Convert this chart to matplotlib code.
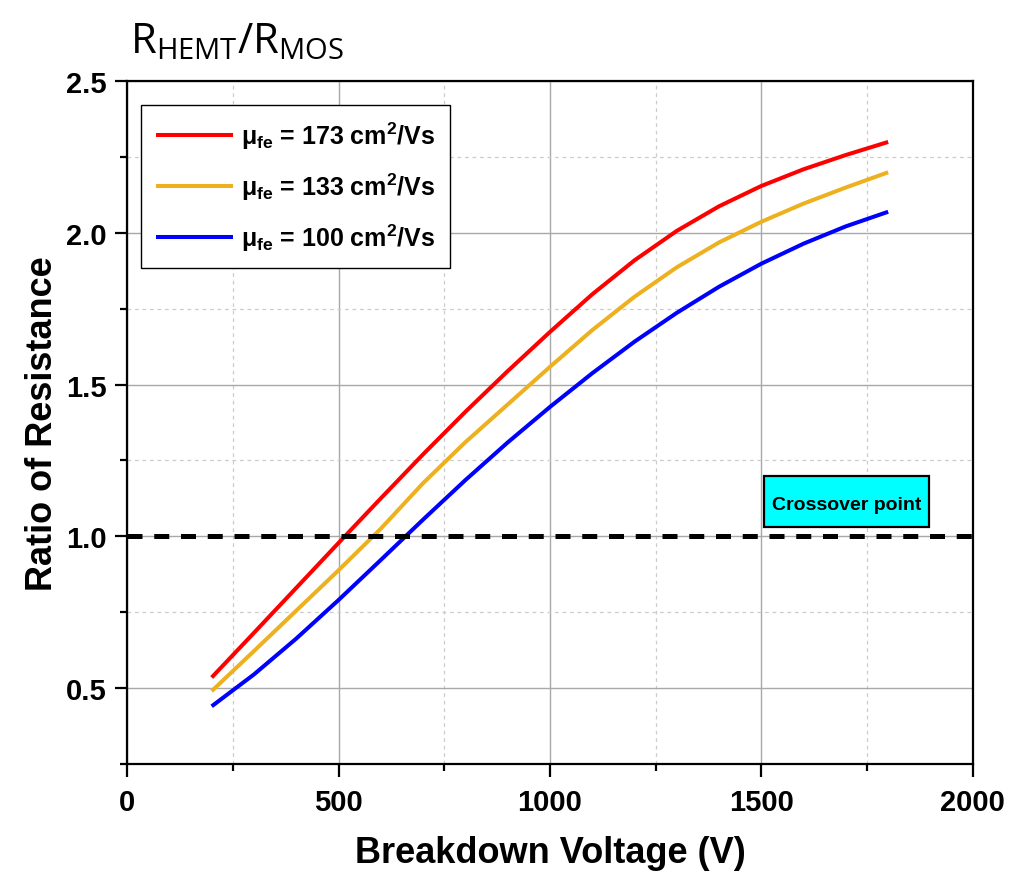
import numpy as np
import matplotlib
matplotlib.use("Agg")
import matplotlib.pyplot as plt
from matplotlib.ticker import MultipleLocator
from matplotlib.patches import Rectangle

# data
voltage = [200, 300, 400, 500, 600, 700, 800, 900, 1000, 1100, 1200,
           1300, 1400, 1500, 1600, 1700, 1800]
ratio_173 = [0.535, 0.682, 0.830, 0.978, 1.125, 1.270, 1.410, 1.544, 1.673, 1.797,
             1.909, 2.006, 2.087, 2.154, 2.209, 2.256, 2.299]
ratio_133 = [0.490, 0.622, 0.755, 0.888, 1.025, 1.175, 1.310, 1.434, 1.558, 1.679,
             1.789, 1.886, 1.968, 2.036, 2.096, 2.149, 2.199]
ratio_100 = [0.440, 0.545, 0.663, 0.790, 0.922, 1.055, 1.185, 1.309, 1.426, 1.537,
             1.641, 1.736, 1.822, 1.898, 1.964, 2.021, 2.069]
mobility = [173, 133, 100]
colors = ['#FF0000', '#EDB120', '#0000FF']
crossover = 1.0

plt.rcParams['font.family'] = ['Liberation Sans', 'DejaVu Sans']
plt.rcParams['font.weight'] = 'bold'

fig = plt.figure(figsize=(10.25, 8.78), dpi=100)
ax = fig.add_axes([0.124, 0.1287, 0.825, 0.778])

for y, c, mu in zip([ratio_173, ratio_133, ratio_100], colors, mobility):
    ax.plot(voltage, y, color=c, lw=2.9, solid_capstyle='butt',
            solid_joinstyle='round',
            label=r'$\mathregular{\mu_{fe}}$ = %d cm$^{\mathregular{2}}$/Vs' % mu)

ax.axhline(crossover, color='k', lw=3.6, ls=(0, (3.0, 2.35)), zorder=3)

ax.set_xlim(0, 2000)
ax.set_ylim(0.25, 2.5)
ax.xaxis.set_major_locator(MultipleLocator(500))
ax.xaxis.set_minor_locator(MultipleLocator(250))
ax.yaxis.set_major_locator(MultipleLocator(0.5))
ax.yaxis.set_minor_locator(MultipleLocator(0.25))
ax.set_yticks([0.5, 1.0, 1.5, 2.0, 2.5])

ax.grid(which='major', color='#A8A8A8', lw=1.0, ls='-')
ax.grid(which='minor', color='#CCCCCC', lw=0.9, ls=(0, (3, 3)))
ax.set_axisbelow(True)

for s in ax.spines.values():
    s.set_linewidth(1.6)
ax.tick_params(which='major', direction='out', length=9, width=1.6,
               labelsize=21, pad=6, top=False, right=False)
ax.tick_params(which='minor', direction='out', length=5, width=1.6,
               top=False, right=False)
ax.tick_params(axis='x', which='major', pad=8)
for lab in ax.get_xticklabels() + ax.get_yticklabels():
    lab.set_fontweight('bold')

ax.set_xlabel('Breakdown Voltage (V)', fontsize=26, fontweight='bold', labelpad=14)
ax.set_ylabel('Ratio of Resistance', fontsize=26, fontweight='bold', labelpad=4)

fig.text(0.127, 0.952, r'R$_{\mathregular{HEMT}}$/R$_{\mathregular{MOS}}$',
         fontsize=30, fontweight='normal', family='Open Sans', va='center')

# crossover label box
ax.add_patch(Rectangle((1507, 1.032), 390, 0.168, facecolor='#00FFFF',
                       edgecolor='k', lw=1.6, zorder=4))
ax.text(1702, 1.105, 'Crossover point', ha='center', va='center',
        fontsize=14, fontweight='bold', zorder=5)

leg = ax.legend(loc='upper left', bbox_to_anchor=(0.016, 0.965), fontsize=18,
                handlelength=3.1, handletextpad=0.3, labelspacing=0.78,
                borderpad=0.6, borderaxespad=0, fancybox=False, framealpha=1)
leg.get_frame().set_edgecolor('k')
leg.get_frame().set_linewidth(1.0)
for t in leg.get_texts():
    t.set_fontweight('bold')

fig.savefig('out.png', dpi=100)
